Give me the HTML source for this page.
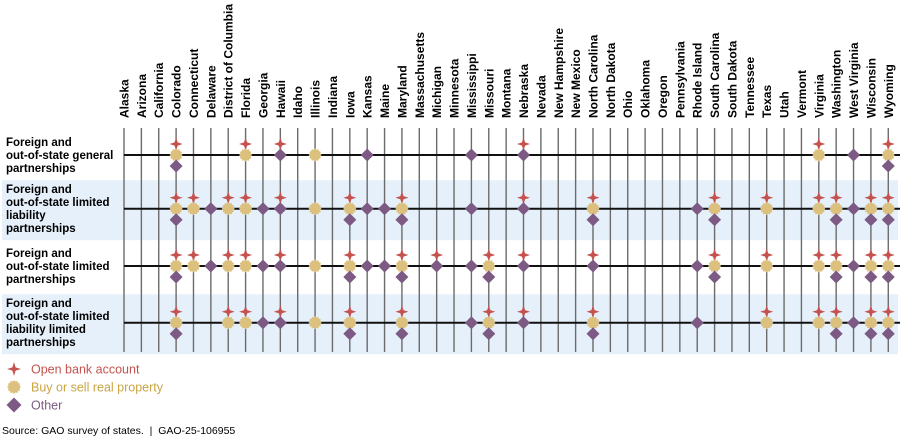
<!DOCTYPE html>
<html><head><meta charset="utf-8"><style>
body{margin:0;background:#fff;}
svg{display:block;font-family:"Liberation Sans",Arial,sans-serif;}
</style></head><body>
<svg id="chart" width="900" height="438" viewBox="0 0 900 438"></svg>
<script>
const states=["Alaska","Arizona","California","Colorado","Connecticut","Delaware","District of Columbia","Florida","Georgia","Hawaii","Idaho","Illinois","Indiana","Iowa","Kansas","Maine","Maryland","Massachusetts","Michigan","Minnesota","Mississippi","Missouri","Montana","Nebraska","Nevada","New Hampshire","New Mexico","North Carolina","North Dakota","Ohio","Oklahoma","Oregon","Pennsylvania","Rhode Island","South Carolina","South Dakota","Tennessee","Texas","Utah","Vermont","Virginia","Washington","West Virginia","Wisconsin","Wyoming"];
const rowLabels=[["Foreign and","out-of-state general","partnerships"],["Foreign and","out-of-state limited","liability","partnerships"],["Foreign and","out-of-state limited","partnerships"],["Foreign and","out-of-state limited","liability limited","partnerships"]];
// per row: state name -> flags (S=open bank, C=buy/sell property, D=other)
const row1={"Colorado":"SCD","Florida":"SC","Hawaii":"SD","Illinois":"C","Kansas":"D","Mississippi":"D","Nebraska":"SD","Virginia":"SC","West Virginia":"D","Wyoming":"SCD"};
const row2={"Colorado":"SCD","Connecticut":"SC","Delaware":"D","District of Columbia":"SC","Florida":"SC","Georgia":"D","Hawaii":"SD","Illinois":"C","Iowa":"SCD","Kansas":"D","Maine":"D","Maryland":"SCD","Mississippi":"D","Nebraska":"SD","North Carolina":"SCD","Rhode Island":"D","South Carolina":"SCD","Texas":"SC","Virginia":"SC","Washington":"SCD","West Virginia":"D","Wisconsin":"SCD","Wyoming":"SCD"};
const row3={"Colorado":"SCD","Connecticut":"SC","Delaware":"D","District of Columbia":"SC","Florida":"SC","Georgia":"D","Hawaii":"SD","Illinois":"C","Iowa":"SCD","Kansas":"D","Maine":"D","Maryland":"SCD","Michigan":"SD","Mississippi":"D","Missouri":"SCD","Nebraska":"SD","North Carolina":"SD","Rhode Island":"D","South Carolina":"SCD","Texas":"SC","Virginia":"SC","Washington":"SCD","West Virginia":"D","Wisconsin":"SCD","Wyoming":"SCD"};
const row4={"Colorado":"SCD","District of Columbia":"SC","Florida":"SC","Georgia":"D","Hawaii":"SD","Illinois":"C","Iowa":"SCD","Maryland":"SCD","Mississippi":"D","Missouri":"SCD","Nebraska":"SD","North Carolina":"SCD","Rhode Island":"D","Texas":"SC","Virginia":"SC","Washington":"SCD","West Virginia":"D","Wisconsin":"SCD","Wyoming":"SCD"};
const rows=[row1,row2,row3,row4];

const NS="http://www.w3.org/2000/svg";
const svg=document.getElementById('chart');
const x0=124,dx=17.37;
const rowY=[155,208.7,266,322.7];
const xPos=i=>x0+i*dx;
const yPos=r=>rowY[r];
const RED="#c4534f",GOLD="#dcc07e",PURP="#7c5a83";
function mk(tag,attrs){const e=document.createElementNS(NS,tag);for(const k in attrs)e.setAttribute(k,attrs[k]);svg.appendChild(e);return e;}
function star(cx,cy,s){return `M${cx},${cy-s} L${cx+1.6},${cy-1.6} L${cx+s},${cy} L${cx+1.6},${cy+1.6} L${cx},${cy+s} L${cx-1.6},${cy+1.6} L${cx-s},${cy} L${cx-1.6},${cy-1.6}Z`;}
function diamond(cx,cy,s){return `M${cx},${cy-s} L${cx+s},${cy} L${cx},${cy+s} L${cx-s},${cy}Z`;}
function sun(cx,cy,r){let d="";const n=24;for(let k=0;k<n;k++){const a=k*Math.PI*2/n;const rr=k%2?r-0.8:r+0.4;d+=(k?"L":"M")+(cx+rr*Math.cos(a)).toFixed(2)+","+(cy+rr*Math.sin(a)).toFixed(2);}return d+"Z";}

// bands
[1,3].forEach(r=>{
  const b=mk('rect',{x:2,y:yPos(r)-28.5,width:896,height:60,fill:"#e6f0fb"});
  
  
});
// state labels + vertical lines
states.forEach((s,i)=>{
  const x=xPos(i);
  const t=mk('text',{x:0,y:0,transform:`translate(${x+4.5},118) rotate(-90)`,"font-size":"12","font-weight":"bold",fill:"#000"});
  t.textContent=s;
  
  
  const l=mk('line',{x1:x,y1:128,x2:x,y2:352,stroke:"#6b6b6b","stroke-width":1.4});
  
  
});
// row lines + labels
rowLabels.forEach((lines,r)=>{
  const y=yPos(r);
  const hl=mk('line',{x1:x0,y1:y,x2:900,y2:y,stroke:"#111","stroke-width":2});
  
  
  const t=mk('text',{x:6,y:0,"font-size":"11.5","font-weight":"bold",fill:"#000"});
  
  
  const lh=13,start=y-(lines.length-1)*lh/2+4;
  lines.forEach((ln,k)=>{const ts=document.createElementNS(NS,'tspan');ts.setAttribute('x',6);ts.setAttribute('y',start+k*lh);ts.textContent=ln;t.appendChild(ts);});
});
// marks
rows.forEach((row,r)=>{
  const y=yPos(r);
  states.forEach((s,i)=>{
    const f=row[s];if(!f)return;
    const x=xPos(i);
    if(f.includes('S')){const p=mk('path',{d:star(x,y-11,6.5),fill:RED});
      
      }
    if(f.includes('C')){const p=mk('path',{d:sun(x,y,6.2),fill:GOLD});
      
      
      if(f.includes('D')){const q=mk('path',{d:diamond(x,y+11,6.5),fill:PURP});
        
        }
    } else if(f.includes('D')){const q=mk('path',{d:diamond(x,y,6.5),fill:PURP});
      
      }
  });
});
// legend
const leg=[["Open bank account",RED,"S"],["Buy or sell real property","#c9a443","C"],["Other",PURP,"D"]];
leg.forEach((l,k)=>{
  const y=369+k*18;
  let p;
  if(l[2]==="S")p=mk('path',{d:star(14,y,7),fill:RED});
  else if(l[2]==="C")p=mk('path',{d:sun(14,y,6.5),fill:GOLD});
  else p=mk('path',{d:diamond(14,y,7.5),fill:PURP});
  
  
  const t=mk('text',{x:31,y:y+4.5,"font-size":"12.5",fill:l[1]});
  t.textContent=l[0];
  
  
});
const src=mk('text',{x:2,y:434,"font-size":"10.5",fill:"#000"});
src.textContent="Source: GAO survey of states.\u00a0\u00a0|\u00a0\u00a0GAO-25-106955";


</script>
</body></html>
